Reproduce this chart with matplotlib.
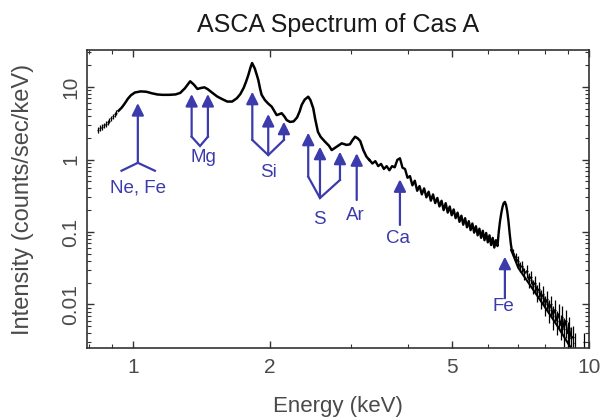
import numpy as np
import matplotlib
matplotlib.use('Agg')
import matplotlib.pyplot as plt
from matplotlib.ticker import FixedLocator, NullFormatter

plt.rcParams['font.family'] = ['Liberation Sans', 'DejaVu Sans']

# spectrum, energy in keV, intensity in counts/sec/keV
# low energy edge (drawn as crosses)
energy_low = [0.840, 0.848, 0.856, 0.864, 0.872, 0.880, 0.888, 0.896, 0.904, 0.912, 0.920]
flux_low = [2.55, 2.7, 2.8, 2.95, 3.1, 3.25, 3.45, 3.7, 3.95, 4.2, 4.45]
err_low = [0.25, 0.25, 0.25, 0.25, 0.3, 0.3, 0.3, 0.3, 0.3, 0.35, 0.35]

# clean part of the spectrum
energy_line = [0.93, 0.945, 0.96, 0.975, 0.99, 1.01, 1.04, 1.07, 1.10, 1.13,
               1.16, 1.20, 1.24, 1.27, 1.30, 1.335, 1.36, 1.385, 1.41, 1.435,
               1.46, 1.49, 1.53, 1.57, 1.61, 1.65, 1.69, 1.72, 1.75, 1.77,
               1.79, 1.81, 1.825, 1.85, 1.87, 1.883, 1.90, 1.915, 1.947, 1.98,
               2.015, 2.04, 2.066, 2.09, 2.119, 2.15, 2.173, 2.21, 2.25, 2.29,
               2.32, 2.344, 2.38, 2.423, 2.45, 2.485, 2.51, 2.545, 2.58, 2.637,
               2.69, 2.728, 2.797, 2.869, 2.942, 2.99, 3.03, 3.07, 3.11, 3.15,
               3.20, 3.25, 3.30]
flux_line = [4.7, 5.2, 5.95, 6.9, 7.7, 8.4, 8.7, 8.6, 8.2, 7.9,
             7.8, 7.8, 7.9, 8.3, 9.6, 12.0, 10.8, 9.4, 9.7, 9.9,
             9.3, 8.4, 7.4, 6.8, 6.3, 6.3, 7.0, 8.0, 9.8, 11.8,
             14.5, 18.5, 21.4, 18.0, 14.5, 12.5, 9.5, 7.8, 6.6, 5.9,
             5.35, 4.7, 4.1, 4.2, 4.35, 3.9, 3.5, 3.3, 3.35, 3.8,
             4.6, 5.65, 6.7, 7.35, 6.6, 5.1, 3.6, 2.4, 2.05, 1.76,
             1.55, 1.35, 1.5, 1.67, 1.59, 1.62, 1.85, 2.06, 1.96, 1.80,
             1.35, 1.10, 0.98]

# noisy part, Ca line and Fe K line
energy_noisy = [3.30, 3.35, 3.40, 3.45, 3.50, 3.55, 3.60, 3.65, 3.70, 3.75,
                3.80, 3.85, 3.90, 3.95, 4.00, 4.05, 4.10, 4.15, 4.20, 4.25,
                4.30, 4.35, 4.40, 4.45, 4.50, 4.55, 4.60, 4.65, 4.70, 4.75,
                4.80, 4.85, 4.90, 4.95, 5.00, 5.05, 5.10, 5.15, 5.20, 5.25,
                5.30, 5.35, 5.40, 5.45, 5.50, 5.55, 5.60, 5.65, 5.70, 5.75,
                5.80, 5.85, 5.90, 5.95, 6.00, 6.05, 6.10, 6.15, 6.20, 6.25,
                6.30, 6.34, 6.38, 6.42, 6.46, 6.50, 6.54, 6.58, 6.62, 6.66,
                6.70, 6.74, 6.78]
flux_noisy = [0.99, 0.88, 0.95, 0.81, 0.87, 0.74, 0.81, 0.71, 0.81, 0.78,
              0.99, 1.04, 0.77, 0.74, 0.56, 0.59, 0.44, 0.51, 0.37, 0.43,
              0.33, 0.40, 0.30, 0.36, 0.27, 0.33, 0.25, 0.295, 0.225, 0.27,
              0.20, 0.25, 0.185, 0.225, 0.17, 0.205, 0.155, 0.185, 0.138, 0.168,
              0.126, 0.155, 0.116, 0.141, 0.106, 0.131, 0.098, 0.120, 0.090, 0.111,
              0.083, 0.104, 0.077, 0.097, 0.072, 0.090, 0.066, 0.083, 0.061, 0.077,
              0.064, 0.10, 0.14, 0.18, 0.22, 0.25, 0.26, 0.235, 0.19, 0.14,
              0.095, 0.068, 0.054]

# high energy data points with errors
energy_tail = [6.82, 6.90, 6.98, 7.06, 7.14, 7.22, 7.30, 7.38, 7.46, 7.54,
               7.62, 7.70, 7.78, 7.86, 7.94, 8.02, 8.10, 8.18, 8.26, 8.34,
               8.42, 8.50, 8.58, 8.66, 8.74, 8.82, 8.90, 8.98, 9.06, 9.14,
               9.22, 9.30, 9.75]
flux_tail = [0.052, 0.045, 0.040, 0.033, 0.034, 0.027, 0.029, 0.022, 0.024, 0.018,
             0.020, 0.0148, 0.0165, 0.0122, 0.0138, 0.0100, 0.0118, 0.0085, 0.0100, 0.0070,
             0.0085, 0.0060, 0.0074, 0.0052, 0.0068, 0.0046, 0.0060, 0.0040, 0.0048, 0.0034,
             0.0036, 0.0029, 0.0030]
err_tail = [0.006, 0.006, 0.006, 0.005, 0.006, 0.005, 0.006, 0.005, 0.005, 0.004,
            0.005, 0.004, 0.004, 0.0035, 0.004, 0.003, 0.0035, 0.003, 0.003, 0.0025,
            0.003, 0.0022, 0.0028, 0.002, 0.0028, 0.002, 0.0025, 0.0018, 0.002, 0.0015,
            0.0015, 0.0012, 0.001]

# model continuum under the tail
energy_model = [6.75, 7.0, 7.5, 8.0, 8.5, 9.0, 9.3]
flux_model = [0.0565, 0.0319, 0.0169, 0.00925, 0.00521, 0.0029, 0.0021]

# line identifications: label, label position, arrows (energy, base, tip), bracket
line_labels = ['Ne, Fe', 'Mg', 'Si', 'S', 'Ar', 'Ca', 'Fe']
label_pos = [(1.025, 0.405), (1.424, 1.05), (1.98, 0.658), (2.562, 0.1465),
             (3.07, 0.171), (3.82, 0.0818), (6.49, 0.0093)]
arrows = [
    [(1.025, 0.90, 6.0)],
    [(1.345, 2.06, 8.0), (1.46, 2.06, 8.0)],
    [(1.827, 1.86, 8.6), (1.98, 1.15, 4.24), (2.143, 1.86, 3.32)],
    [(2.423, 0.579, 2.34), (2.571, 0.294, 1.50), (2.844, 0.521, 1.28)],
    [(3.095, 0.276, 1.22)],
    [(3.85, 0.125, 0.533)],
    [(6.54, 0.0122, 0.0456)],
]
brackets = [
    [(0.944, 0.70), (1.025, 0.90), (1.117, 0.70)],
    [(1.345, 2.06), (1.403, 1.535), (1.46, 2.06)],
    [(1.827, 1.86), (1.98, 1.15), (2.143, 1.86)],
    [(2.423, 0.579), (2.571, 0.294), (2.844, 0.521)],
    [], [], [],
]

blue = '#3b3bab'
grey = '#4a4a4a'

fig = plt.figure(figsize=(6.01, 4.17), dpi=100)
ax = fig.add_axes([87/601, 1 - 348/417, 502/601, 298/417])
ax.set_xscale('log')
ax.set_yscale('log')

ax.errorbar(energy_low, flux_low, yerr=err_low, xerr=0.004, fmt='none',
            ecolor='black', elinewidth=0.9)
ax.plot(energy_line, flux_line, color='black', lw=1.8)
ax.plot(energy_noisy, flux_noisy, color='black', lw=1.7)
ax.errorbar(energy_tail, flux_tail, yerr=err_tail, xerr=0.035, fmt='none',
            ecolor='black', elinewidth=0.9)
ax.plot(energy_tail[:-2], flux_tail[:-2], color='black', lw=1.0)
ax.plot(energy_model, flux_model, color='black', lw=1.5)

for name, pos, arr, br in zip(line_labels, label_pos, arrows, brackets):
    for e, base, tip in arr:
        ax.annotate('', xy=(e, tip), xytext=(e, base),
                    arrowprops=dict(arrowstyle='-|>,head_length=0.6,head_width=0.3',
                                    color=blue, lw=1.6, mutation_scale=12,
                                    shrinkA=0, shrinkB=0))
    if br:
        ax.plot([p[0] for p in br], [p[1] for p in br], color=blue, lw=1.6,
                solid_joinstyle='miter')
    ax.text(pos[0], pos[1], name, color=blue, fontsize=13.5,
            ha='center', va='center')

ax.set_xlim(0.793, 10.0)
ax.set_ylim(0.00251, 32.4)

ax.xaxis.set_major_locator(FixedLocator([1, 2, 5, 10]))
ax.xaxis.set_minor_locator(FixedLocator([0.8, 0.9, 3, 4, 6, 7, 8, 9]))
ax.set_xticklabels(['1', '2', '5', '10'])
ax.xaxis.set_minor_formatter(NullFormatter())
ax.yaxis.set_major_locator(FixedLocator([0.01, 0.1, 1, 10]))
ax.yaxis.set_minor_locator(FixedLocator(
    [m * 10.0**k for k in range(-3, 2) for m in range(2, 10)]))
ax.set_yticklabels(['0.01', '0.1', '1', '10'], rotation=90, va='center')
ax.yaxis.set_minor_formatter(NullFormatter())

ax.tick_params(which='both', direction='in', top=True, right=True,
               colors='#333333', labelcolor=grey, labelsize=15)
ax.tick_params(which='major', length=5, width=1.0)
ax.tick_params(which='minor', length=3, width=0.8)
ax.tick_params(axis='x', pad=7)
ax.tick_params(axis='y', pad=5)
for s in ax.spines.values():
    s.set_color('#333333')
    s.set_linewidth(1.2)

ax.set_title('ASCA Spectrum of Cas A', fontsize=18, color='#1a1a1a', pad=13)
ax.set_xlabel('Energy (keV)', fontsize=16, color=grey)
ax.set_ylabel('Intensity (counts/sec/keV)', fontsize=17, color=grey)
ax.xaxis.set_label_coords(0.5, -0.16)
ax.yaxis.set_label_coords(-0.105, 0.5)

plt.savefig('out.png', dpi=100)
